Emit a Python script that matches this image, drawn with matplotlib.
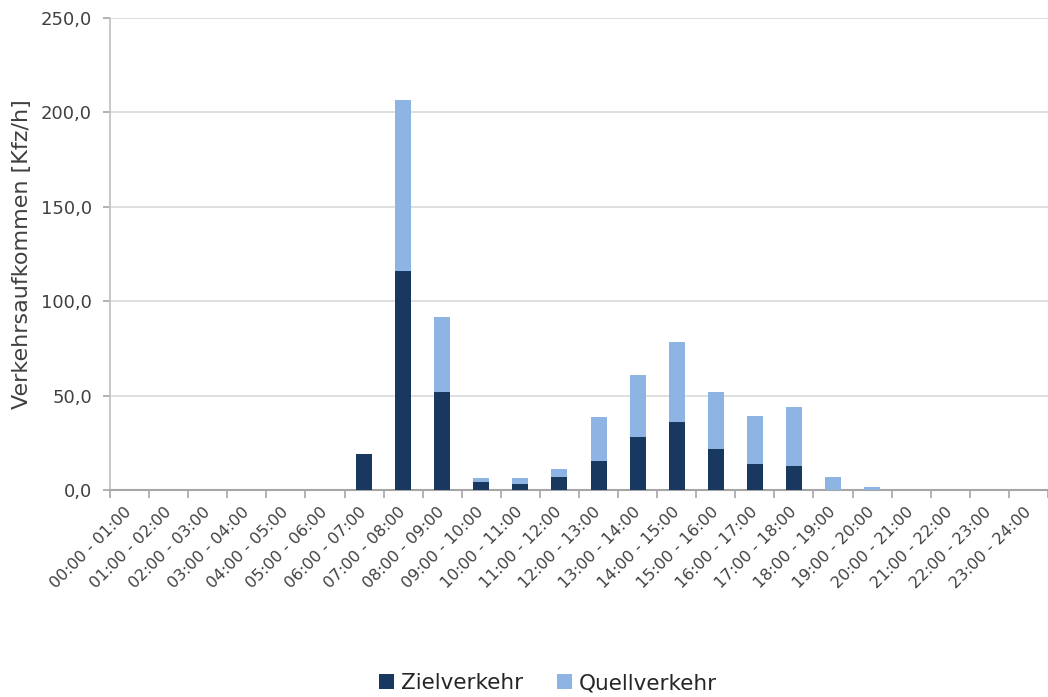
import matplotlib
matplotlib.use("Agg")
import matplotlib.pyplot as plt
import numpy as np

categories = ["00:00 - 01:00", "01:00 - 02:00", "02:00 - 03:00", "03:00 - 04:00",
              "04:00 - 05:00", "05:00 - 06:00", "06:00 - 07:00", "07:00 - 08:00",
              "08:00 - 09:00", "09:00 - 10:00", "10:00 - 11:00", "11:00 - 12:00",
              "12:00 - 13:00", "13:00 - 14:00", "14:00 - 15:00", "15:00 - 16:00",
              "16:00 - 17:00", "17:00 - 18:00", "18:00 - 19:00", "19:00 - 20:00",
              "20:00 - 21:00", "21:00 - 22:00", "22:00 - 23:00", "23:00 - 24:00"]
zielverkehr = [0, 0, 0, 0, 0, 0, 19.3, 116.2, 51.9, 4.4, 3.2, 7.1,
               15.5, 28.1, 35.8, 21.9, 13.9, 12.9, 0, 0, 0, 0, 0, 0]
quellverkehr = [0, 0, 0, 0, 0, 0, 0, 90.4, 39.9, 2.0, 3.2, 4.0,
                23.2, 32.8, 42.4, 29.8, 25.3, 30.9, 6.9, 1.7, 0, 0, 0, 0]
y_ticks = [0, 50, 100, 150, 200, 250]

dark = "#183860"
light = "#8EB4E3"

plt.rcParams['font.family'] = ['DejaVu Sans']

fig = plt.figure(figsize=(10.48, 6.97), dpi=100)
ax = fig.add_axes([110/1048, 1-490/697, (1048-110)/1048, (490-18)/697])

x = np.arange(len(categories))
w = 0.41
ax.bar(x, zielverkehr, w, color=dark, label="Zielverkehr", zorder=3)
ax.bar(x, quellverkehr, w, bottom=zielverkehr, color=light, label="Quellverkehr", zorder=3)

ax.set_xlim(-0.5, len(categories) - 0.5)
ax.set_ylim(0, 250)
ax.set_yticks(y_ticks)
ax.set_yticklabels([f"{v:.1f}".replace(".", ",") for v in y_ticks], fontsize=13, color="#404040")
ax.yaxis.grid(True, color="#d9d9d9", linewidth=1.2, zorder=0)
ax.set_axisbelow(True)

ax.set_xticks(x)
ax.set_xticklabels(categories, rotation=45, ha="right", va="center", rotation_mode="anchor",
                   fontsize=11.5, color="#404040")
ax.tick_params(axis="x", length=0, pad=14)
ax.set_xticks(np.arange(-0.5, len(categories) + 0.5, 1), minor=True)
ax.tick_params(axis="x", which="minor", length=6, color="#a6a6a6", width=1.2)
ax.tick_params(axis="y", length=5, color="#a6a6a6", width=1.2, pad=8)

for s in ["top", "right"]:
    ax.spines[s].set_visible(False)
ax.spines["left"].set_color("#bfbfbf")
ax.spines["left"].set_linewidth(1.2)
ax.spines["bottom"].set_color("#a6a6a6")
ax.spines["bottom"].set_linewidth(1.5)

ax.set_ylabel("Verkehrsaufkommen [Kfz/h]", fontsize=16, color="#404040", labelpad=6)

leg = fig.legend(loc="center", bbox_to_anchor=(548/1048, 1-683/697), ncol=2,
                 frameon=False, fontsize=15.5, handlelength=0.7, handleheight=0.7,
                 handletextpad=0.3, columnspacing=1.6)
for t in leg.get_texts():
    t.set_color("#262626")

fig.savefig("out.png", dpi=100)
